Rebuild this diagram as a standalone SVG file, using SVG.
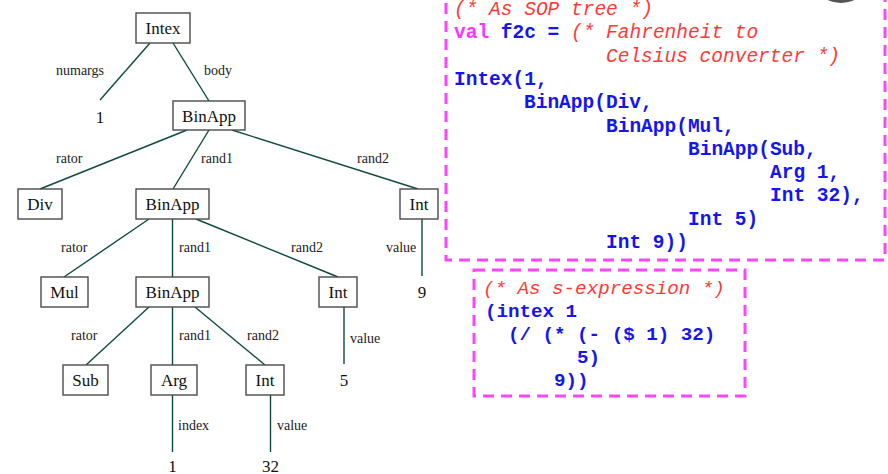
<svg xmlns="http://www.w3.org/2000/svg" width="888" height="474" viewBox="0 0 888 474">
<defs>
<style>
.box{fill:#fff;stroke:#4a4a4a;stroke-width:1.4}
.nt{font-family:"Liberation Serif","Times New Roman",serif;font-size:17px;fill:#111;text-anchor:middle}
.lb{font-family:"Liberation Serif","Times New Roman",serif;font-size:14px;fill:#222}
.lf{font-family:"Liberation Serif","Times New Roman",serif;font-size:17px;fill:#111;text-anchor:middle}
.edge{stroke:#0f4a3e;stroke-width:1.4;fill:none}
.dash{fill:none;stroke:#ff44ff;stroke-width:3;stroke-dasharray:11 7}
.code{font-family:"Liberation Mono","Courier New",monospace;font-size:19.5px;font-weight:bold;fill:#1515ee}
.code2{font-family:"Liberation Mono","Courier New",monospace;font-size:19.2px;font-weight:bold;fill:#1515ee}
.cm{font-family:"Liberation Mono","Courier New",monospace;font-style:italic;fill:#ff3838}
.kw{fill:#ff33ff}
</style>
<radialGradient id="g" cx="0.5" cy="0.3" r="0.6">
<stop offset="0" stop-color="#bbb"/>
<stop offset="1" stop-color="#555"/>
</radialGradient>
</defs>
<rect width="888" height="474" fill="#fff"/>
<ellipse cx="841" cy="-12" rx="22" ry="15" fill="url(#g)"/>

<g id="connectors">
<line class="edge" x1="150" y1="43" x2="100" y2="100"/>
<line class="edge" x1="173" y1="43" x2="209" y2="101"/>
<line class="edge" x1="187" y1="130" x2="40" y2="189"/>
<line class="edge" x1="209" y1="130" x2="173" y2="189"/>
<line class="edge" x1="232" y1="130" x2="418" y2="189"/>
<line class="edge" x1="149" y1="219" x2="64" y2="277"/>
<line class="edge" x1="172.5" y1="219" x2="172.5" y2="277"/>
<line class="edge" x1="196" y1="219" x2="338" y2="277"/>
<line class="edge" x1="422" y1="219" x2="422" y2="276"/>
<line class="edge" x1="149" y1="307" x2="86" y2="365"/>
<line class="edge" x1="172.5" y1="307" x2="172.5" y2="365"/>
<line class="edge" x1="195" y1="307" x2="265" y2="365"/>
<line class="edge" x1="344" y1="307" x2="344" y2="364"/>
<line class="edge" x1="172.5" y1="395" x2="172.5" y2="452"/>
<line class="edge" x1="270.5" y1="395" x2="270.5" y2="452"/>
</g>

<g id="edge-labels">
<text class="lb" x="56" y="75">numargs</text>
<text class="lb" x="204" y="75">body</text>
<text class="lb" x="56" y="163">rator</text>
<text class="lb" x="201" y="163">rand1</text>
<text class="lb" x="357" y="163">rand2</text>
<text class="lb" x="61" y="252">rator</text>
<text class="lb" x="179" y="252">rand1</text>
<text class="lb" x="291" y="252">rand2</text>
<text class="lb" x="386" y="252">value</text>
<text class="lb" x="71" y="340">rator</text>
<text class="lb" x="179" y="340">rand1</text>
<text class="lb" x="247" y="340">rand2</text>
<text class="lb" x="350" y="343">value</text>
<text class="lb" x="178" y="430">index</text>
<text class="lb" x="277" y="430">value</text>
</g>

<g id="n-intex"><rect class="box" x="136" y="13" width="54" height="30"/><text class="nt" x="163" y="34">Intex</text></g>
<g id="leaf-1a"><text class="lf" x="100" y="123">1</text></g>
<g id="n-binapp1"><rect class="box" x="173" y="101" width="72" height="29"/><text class="nt" x="209" y="122">BinApp</text></g>
<g id="n-div"><rect class="box" x="18" y="189" width="44" height="30"/><text class="nt" x="40" y="210">Div</text></g>
<g id="n-binapp2"><rect class="box" x="136" y="189" width="73" height="30"/><text class="nt" x="172.5" y="210">BinApp</text></g>
<g id="n-int9"><rect class="box" x="400" y="189" width="38" height="30"/><text class="nt" x="419" y="210">Int</text></g>
<g id="leaf-9"><text class="lf" x="422" y="298">9</text></g>
<g id="n-mul"><rect class="box" x="41" y="277" width="47" height="30"/><text class="nt" x="64.5" y="298">Mul</text></g>
<g id="n-binapp3"><rect class="box" x="136" y="277" width="73" height="30"/><text class="nt" x="172.5" y="298">BinApp</text></g>
<g id="n-int5"><rect class="box" x="319" y="277" width="38" height="30"/><text class="nt" x="338" y="298">Int</text></g>
<g id="leaf-5"><text class="lf" x="344" y="386">5</text></g>
<g id="n-sub"><rect class="box" x="63" y="365" width="45" height="30"/><text class="nt" x="85.5" y="386">Sub</text></g>
<g id="n-arg"><rect class="box" x="151" y="365" width="46" height="30"/><text class="nt" x="174" y="386">Arg</text></g>
<g id="n-int32"><rect class="box" x="246" y="365" width="38" height="30"/><text class="nt" x="265" y="386">Int</text></g>
<g id="leaf-1b"><text class="lf" x="172.5" y="471.5">1</text></g>
<g id="leaf-32"><text class="lf" x="270.5" y="471.5">32</text></g>

<g id="sop-box">
<rect class="dash" x="446" y="-20" width="439" height="280"/>
<text class="cm" font-size="19.5" x="454" y="15">(* As SOP tree *)</text>
<text class="code" x="454" y="38.3"><tspan class="kw">val</tspan> f2c = </text>
<text class="cm" font-size="19.5" x="571" y="38.3">(* Fahrenheit to</text>
<text class="cm" font-size="19.5" x="606" y="61.6">Celsius converter *)</text>
<text class="code" x="454" y="85">Intex(1,</text>
<text class="code" x="524" y="108.2">BinApp(Div,</text>
<text class="code" x="606" y="131.5">BinApp(Mul,</text>
<text class="code" x="688" y="154.8">BinApp(Sub,</text>
<text class="code" x="770" y="178.1">Arg 1,</text>
<text class="code" x="770" y="201.4">Int 32),</text>
<text class="code" x="688" y="224.7">Int 5)</text>
<text class="code" x="606" y="248">Int 9))</text>
</g>

<g id="sexp-box">
<rect class="dash" x="474" y="270" width="271" height="126"/>
<text class="cm" font-size="19.2" x="483" y="294">(* As s-expression *)</text>
<text class="code2" x="485" y="317">(intex 1</text>
<text class="code2" x="508" y="340">(/ (* (- ($ 1) 32)</text>
<text class="code2" x="577" y="363">5)</text>
<text class="code2" x="554" y="386">9))</text>
</g>
</svg>
